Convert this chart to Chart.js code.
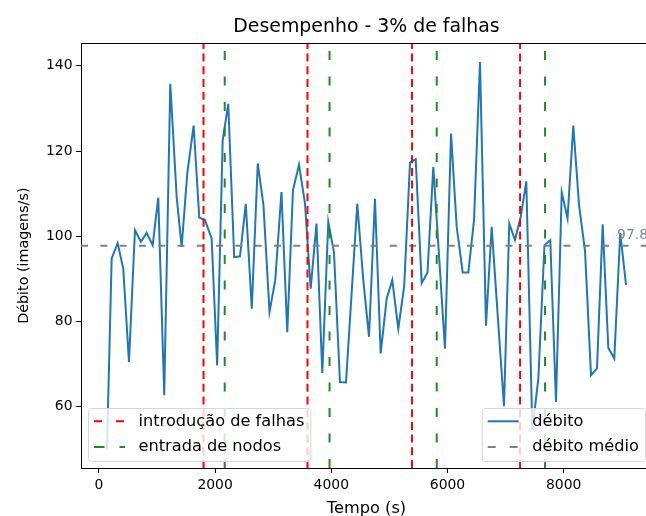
<!DOCTYPE html>
<html>
<head>
<meta charset="utf-8">
<script src="https://cdn.jsdelivr.net/npm/chart.js@4"></script>
<style>
  html, body { margin: 0; padding: 0; overflow: hidden; background: #fff; }
</style>
</head>
<body>
<canvas id="chart" width="660" height="530"></canvas>
<script>
// time of each sample (s) and throughput (imagens/s)
const TIMES = [138, 219, 322, 418, 517, 620, 723, 821, 925, 1021,
  1124, 1228, 1338, 1424, 1520, 1630, 1727, 1825, 1940, 2035,
  2130, 2226, 2328, 2428, 2528, 2631, 2734, 2832, 2936, 3035,
  3142, 3242, 3340, 3444, 3547, 3645, 3745, 3845, 3948, 4046,
  4149, 4253, 4351, 4447, 4551, 4649, 4752, 4850, 4954, 5050,
  5153, 5255, 5355, 5453, 5556, 5656, 5756, 5857, 5957, 6061,
  6159, 6262, 6359, 6457, 6560, 6663, 6761, 6866, 6973, 7064,
  7162, 7261, 7357, 7461, 7564, 7670, 7770, 7868, 7967, 8067,
  8166, 8264, 8368, 8471, 8574, 8672, 8769, 8872, 8974, 9074];
const THROUGHPUT = [50.1, 94.8, 98.4, 92.4, 70.5, 101.4, 98.7, 100.8, 97.9, 109.1,
  62.7, 135.8, 109.2, 97.5, 114.7, 126, 104.4, 103.8, 99.5, 69.7,
  122.5, 131.1, 95.1, 95.3, 107.6, 83, 117.1, 107.3, 82.2, 89.7,
  110.4, 77.5, 110.8, 116.8, 107.7, 87.7, 103, 67.9, 103.4, 96.3,
  65.8, 65.7, 86.9, 107.6, 89.7, 76.4, 108.8, 72.5, 85.4, 89.7,
  78.3, 88.3, 117.3, 118.1, 89, 91.5, 116.3, 95, 73.6, 124.1,
  102.2, 91.5, 91.5, 103.8, 140.9, 79, 102.2, 81.2, 60.1, 103,
  99.1, 104.5, 112.9, 54.5, 66.5, 97.9, 99.1, 61.1, 110.3, 104.2,
  126, 107.5, 96.5, 67.4, 69, 102.8, 73.8, 71.3, 100.8, 88.6];
const MEAN_THROUGHPUT = 97.8;
const MEAN_LABEL_X = 8920;
const FAULT_TIMES = [1800, 3590, 5390, 7250];   // introdução de falhas
const JOIN_TIMES = [2165, 3970, 5815, 7680];    // entrada de nodos
const X_TICKS = [0, 2000, 4000, 6000, 8000];
const Y_TICKS = [60, 80, 100, 120, 140];
const X_MIN = -309, X_MAX = 9521;
const Y_MIN = 45.6, Y_MAX = 145.3;

const FONT = '"DejaVu Sans", sans-serif';
const BLUE = '#1f77b4', RED = '#ff0000', GREEN = '#1f8a1f', GRAY = '#808080';

function vlines(times) {
  const pts = [];
  times.forEach(t => {
    pts.push({ x: t, y: Y_MIN }, { x: t, y: Y_MAX }, { x: t, y: null });
  });
  return pts;
}

const LEFT_LEGEND = [
  { label: 'introdução de falhas', color: RED, dash: [8, 14] },
  { label: 'entrada de nodos', color: GREEN, dash: [10.5, 15] }
];
const RIGHT_LEGEND = [
  { label: 'débito', color: BLUE, dash: [] },
  { label: 'débito médio', color: GRAY, dash: [8, 14] }
];

function drawLegend(ctx, anchorX, bottom, side, entries) {
  ctx.font = '16.2px ' + FONT;
  const textW = Math.max(...entries.map(e => ctx.measureText(e.label).width));
  const w = 50.5 + textW + 6;
  const h = 53;
  const x0 = side === 'left' ? anchorX : anchorX - w;
  const y0 = bottom - h;
  ctx.beginPath();
  ctx.roundRect(x0 + 0.5, y0 + 0.5, w, h, 3);
  ctx.fillStyle = 'rgba(255,255,255,0.8)';
  ctx.fill();
  ctx.strokeStyle = '#d6d6d6';
  ctx.lineWidth = 1;
  ctx.stroke();
  entries.forEach((e, i) => {
    const cy = y0 + 13.3 + i * 25.7;
    ctx.beginPath();
    ctx.setLineDash(e.dash);
    ctx.strokeStyle = e.color;
    ctx.lineWidth = 2;
    ctx.moveTo(x0 + 6, cy);
    ctx.lineTo(x0 + 37, cy);
    ctx.stroke();
    ctx.setLineDash([]);
    ctx.fillStyle = '#000';
    ctx.textAlign = 'left';
    ctx.textBaseline = 'middle';
    ctx.fillText(e.label, x0 + 50.5, cy);
  });
}

const extras = {
  id: 'extras',
  afterDraw(chart) {
    const { ctx, chartArea: a, scales: { x, y } } = chart;
    ctx.save();
    // frame top/right
    ctx.strokeStyle = '#000';
    ctx.lineWidth = 1;
    ctx.beginPath();
    ctx.moveTo(Math.round(a.left) + 0.5, Math.round(a.top) + 0.5);
    ctx.lineTo(Math.round(a.right) + 0.5, Math.round(a.top) + 0.5);
    ctx.lineTo(Math.round(a.right) + 0.5, Math.round(a.bottom) + 0.5);
    ctx.stroke();
    // title
    ctx.fillStyle = '#000';
    ctx.font = '18.9px ' + FONT;
    ctx.textAlign = 'center';
    ctx.textBaseline = 'alphabetic';
    ctx.fillText('Desempenho - 3% de falhas', (a.left + a.right) / 2, 31.5);
    // mean value label
    ctx.fillStyle = '#7a8799';
    ctx.font = '13.9px ' + FONT;
    ctx.textAlign = 'left';
    ctx.fillText(MEAN_THROUGHPUT.toFixed(1), x.getPixelForValue(MEAN_LABEL_X), y.getPixelForValue(MEAN_THROUGHPUT) - 6.5);
    // legends
    drawLegend(ctx, a.left + 7, a.bottom - 7, 'left', LEFT_LEGEND);
    drawLegend(ctx, a.right - 7, a.bottom - 7, 'right', RIGHT_LEGEND);
    ctx.restore();
  }
};

const axisGrid = { drawOnChartArea: false, drawTicks: true, tickLength: 5, tickColor: '#000', tickWidth: 1 };
const axisBorder = { display: true, color: '#000', width: 1 };

new Chart(document.getElementById('chart'), {
  type: 'line',
  data: {
    datasets: [
      {
        label: 'débito',
        data: TIMES.map((t, i) => ({ x: t, y: THROUGHPUT[i] })),
        borderColor: BLUE,
        borderWidth: 2,
        pointRadius: 0,
        tension: 0,
        order: 4
      },
      {
        label: 'débito médio',
        data: [{ x: X_MIN, y: MEAN_THROUGHPUT }, { x: X_MAX, y: MEAN_THROUGHPUT }],
        borderColor: GRAY,
        borderWidth: 2,
        borderDash: [7, 12.3],
        pointRadius: 0,
        order: 3
      },
      {
        label: 'introdução de falhas',
        data: vlines(FAULT_TIMES),
        borderColor: RED,
        borderWidth: 2,
        borderDash: [8, 4.7],
        pointRadius: 0,
        spanGaps: false,
        order: 2
      },
      {
        label: 'entrada de nodos',
        data: vlines(JOIN_TIMES),
        borderColor: GREEN,
        borderWidth: 2,
        borderDash: [9, 16.5],
        pointRadius: 0,
        spanGaps: false,
        order: 1
      }
    ]
  },
  options: {
    responsive: false,
    animation: false,
    layout: { padding: { top: 43.3, right: 8, left: 0, bottom: 0 } },
    plugins: {
      legend: { display: false },
      tooltip: { enabled: false },
      title: { display: false }
    },
    scales: {
      x: {
        type: 'linear',
        min: X_MIN,
        max: X_MAX,
        afterBuildTicks: axis => { axis.ticks = X_TICKS.map(v => ({ value: v })); },
        afterFit: axis => { axis.height = 62; },
        grid: axisGrid,
        border: axisBorder,
        ticks: {
          color: '#000',
          font: { family: FONT, size: 13.9 },
          padding: 4,
          maxRotation: 0,
          autoSkip: false,
          callback: v => String(v)
        },
        title: {
          display: true,
          text: 'Tempo (s)',
          color: '#000',
          font: { family: FONT, size: 16.2 },
          padding: { top: 0, bottom: 11.3 }
        }
      },
      y: {
        type: 'linear',
        min: Y_MIN,
        max: Y_MAX,
        afterBuildTicks: axis => { axis.ticks = Y_TICKS.map(v => ({ value: v })); },
        afterFit: axis => { axis.width = 81; },
        grid: axisGrid,
        border: axisBorder,
        ticks: {
          color: '#000',
          font: { family: FONT, size: 13.9 },
          padding: 3.5,
          callback: v => String(v)
        },
        title: {
          display: true,
          text: 'Débito (imagens/s)',
          color: '#000',
          font: { family: FONT, size: 14.3 },
          padding: { top: 16, bottom: 0 }
        }
      }
    }
  },
  plugins: [extras]
});
</script>
</body>
</html>
